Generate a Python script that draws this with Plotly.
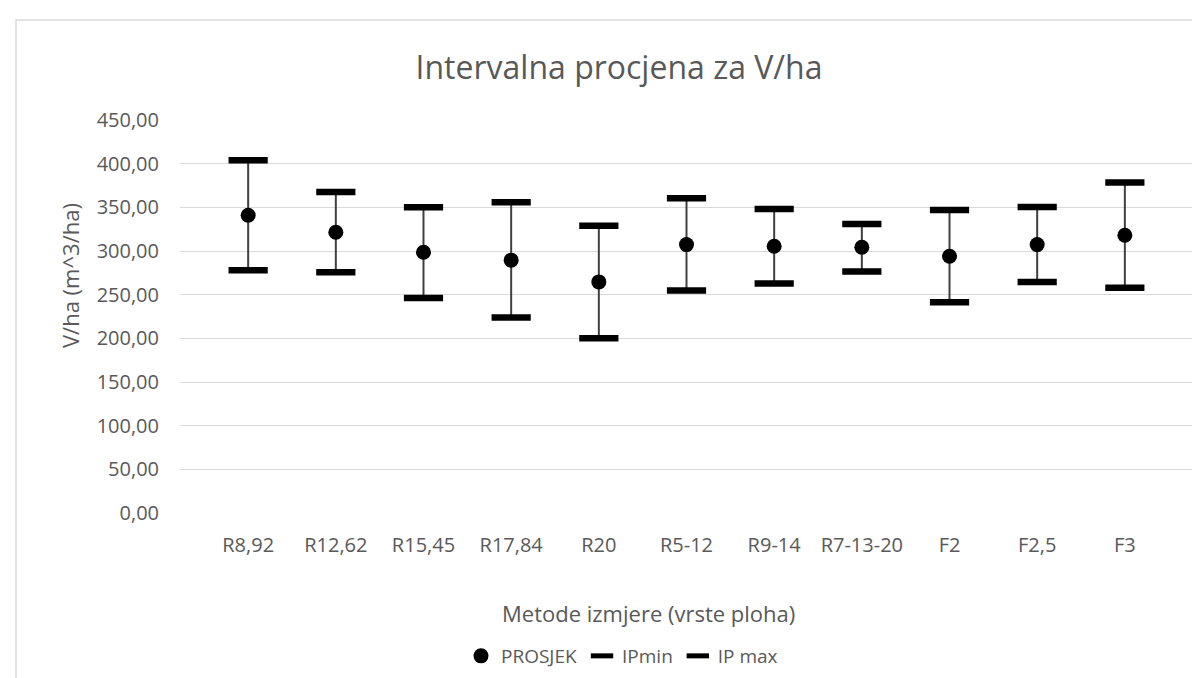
import plotly.graph_objects as go

categories = ["R8,92", "R12,62", "R15,45", "R17,84", "R20", "R5-12",
              "R9-14", "R7-13-20", "F2", "F2,5", "F3"]
prosjek = [341.0, 321.5, 298.6, 289.5, 264.6, 307.3, 305.5, 304.3, 294.0, 307.3, 318.0]
ip_min = [278.0, 275.7, 246.3, 223.8, 200.0, 254.7, 262.7, 276.4, 241.4, 264.6, 257.8]
ip_max = [403.9, 367.6, 350.1, 355.8, 329.0, 360.4, 348.2, 331.0, 347.0, 350.5, 378.3]
y_ticks = [0, 50, 100, 150, 200, 250, 300, 350, 400, 450]

FONT = "Open Sans"
TXT = "#595959"

W, H = 1200, 678
L, R, T, B = 172, 15, 112, 173
pw, ph = W - L - R, H - T - B


def px_x(p):
    return (p - L) / pw


def px_y(p):
    return (H - B - p) / ph


fig = go.Figure()

fig.add_trace(go.Scatter(
    x=categories, y=prosjek, mode="markers", name="PROSJEK",
    marker=dict(symbol="circle", size=15, color="black"),
    error_y=dict(type="data", symmetric=False,
                 array=[mx - m for mx, m in zip(ip_max, prosjek)],
                 arrayminus=[m - mn for m, mn in zip(prosjek, ip_min)],
                 width=0, thickness=2, color="#404040"),
))
fig.add_trace(go.Scatter(
    x=categories, y=ip_min, mode="markers", name="IPmin",
    marker=dict(symbol="line-ew", size=28, color="black",
                line=dict(width=6.5, color="black")),
))
fig.add_trace(go.Scatter(
    x=categories, y=ip_max, mode="markers", name="IP max",
    marker=dict(symbol="line-ew", size=28, color="black",
                line=dict(width=6.5, color="black")),
))

fig.update_layout(
    width=W, height=H,
    margin=dict(l=L, r=R, t=T, b=B, autoexpand=False),
    paper_bgcolor="white", plot_bgcolor="white",
    separators=",.",
    font=dict(family=FONT, color=TXT, size=20),
    title=dict(text="Intervalna procjena za V/ha", x=611 / W, xanchor="center",
               y=1 - 60 / H, yanchor="middle", yref="container",
               font=dict(family=FONT, size=32, color=TXT)),
    showlegend=True,
    legend=dict(orientation="h", x=px_x(614), xanchor="center",
                y=px_y(648), yanchor="middle",
                font=dict(family=FONT, size=19, color=TXT),
                itemwidth=30, traceorder="normal"),
    xaxis=dict(type="category", categoryorder="array", categoryarray=categories,
               showgrid=False, zeroline=False, showline=False, ticks="",
               ticklabelstandoff=18,
               tickfont=dict(family=FONT, size=20, color=TXT)),
    yaxis=dict(range=[0, 450], tickvals=y_ticks, tickformat=".2f",
               showgrid=True, gridcolor="#d9d9d9", gridwidth=1,
               zeroline=False, showline=False, ticks="",
               ticklabelstandoff=20,
               tickfont=dict(family=FONT, size=20, color=TXT)),
    annotations=[
        dict(text="Metode izmjere (vrste ploha)", xref="paper", yref="paper",
             x=px_x(640), y=px_y(605), xanchor="center", yanchor="middle",
             showarrow=False, font=dict(family=FONT, size=22, color=TXT)),
        dict(text="V/ha (m^3/ha)", xref="paper", yref="paper",
             x=px_x(62), y=px_y(268), xanchor="center", yanchor="middle",
             textangle=-90, showarrow=False,
             font=dict(family=FONT, size=22, color=TXT)),
    ],
    shapes=[
        dict(type="rect", xref="paper", yref="paper",
             x0=px_x(8), x1=px_x(1214), y0=px_y(700), y1=px_y(12),
             line=dict(color="#d9d9d9", width=1.5), fillcolor="rgba(0,0,0,0)",
             layer="below"),
    ],
)

fig.write_html("out.html")
